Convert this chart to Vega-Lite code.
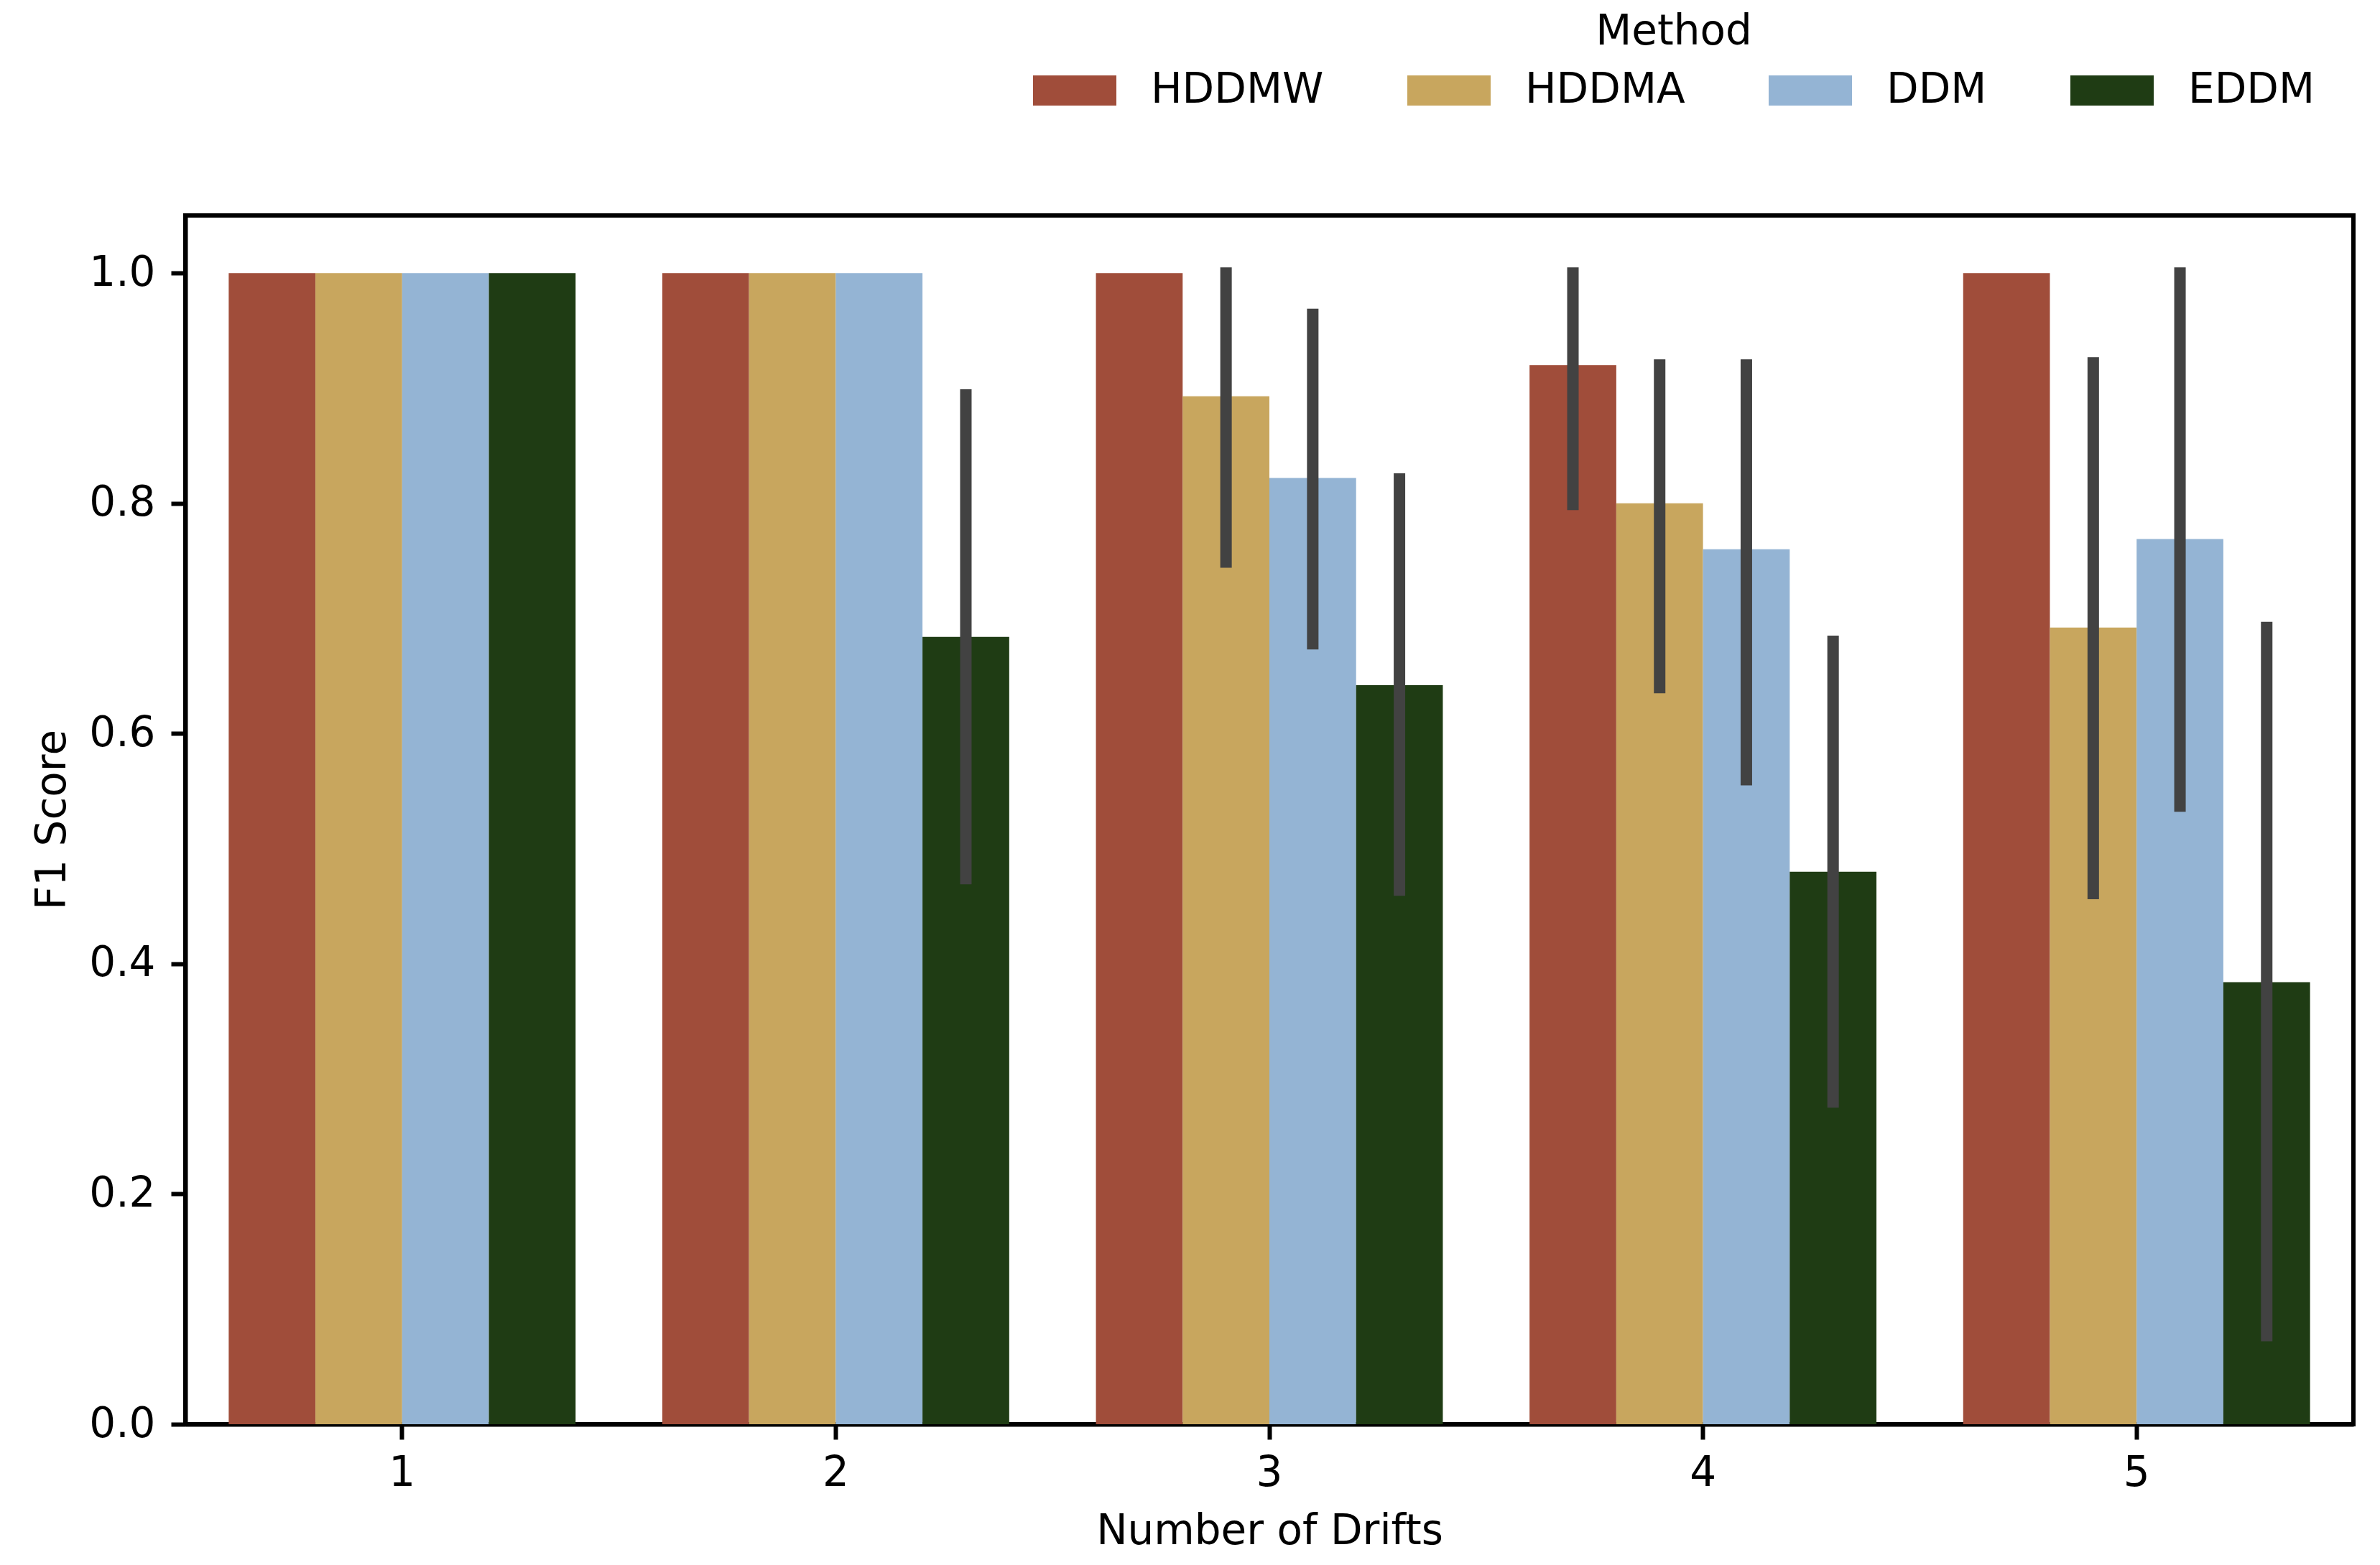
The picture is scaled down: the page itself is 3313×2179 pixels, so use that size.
{
  "$schema": "https://vega.github.io/schema/vega-lite/v6.json",
  "autosize": {"type": "none"},
  "width": 3018,
  "height": 1683,
  "padding": {"left": 258, "top": 300, "right": 37, "bottom": 196},
  "background": "white",
  "data": {
    "values": [
      {"drifts": "1", "method": "HDDMW", "f1": 1.0, "lo": null, "hi": null},
      {"drifts": "1", "method": "HDDMA", "f1": 1.0, "lo": null, "hi": null},
      {"drifts": "1", "method": "DDM", "f1": 1.0, "lo": null, "hi": null},
      {"drifts": "1", "method": "EDDM", "f1": 1.0, "lo": null, "hi": null},
      {"drifts": "2", "method": "HDDMW", "f1": 1.0, "lo": null, "hi": null},
      {"drifts": "2", "method": "HDDMA", "f1": 1.0, "lo": null, "hi": null},
      {"drifts": "2", "method": "DDM", "f1": 1.0, "lo": null, "hi": null},
      {"drifts": "2", "method": "EDDM", "f1": 0.684, "lo": 0.469, "hi": 0.899},
      {"drifts": "3", "method": "HDDMW", "f1": 1.0, "lo": null, "hi": null},
      {"drifts": "3", "method": "HDDMA", "f1": 0.893, "lo": 0.744, "hi": 1.005},
      {"drifts": "3", "method": "DDM", "f1": 0.822, "lo": 0.673, "hi": 0.969},
      {"drifts": "3", "method": "EDDM", "f1": 0.642, "lo": 0.459, "hi": 0.826},
      {"drifts": "4", "method": "HDDMW", "f1": 0.92, "lo": 0.794, "hi": 1.005},
      {"drifts": "4", "method": "HDDMA", "f1": 0.8, "lo": 0.635, "hi": 0.925},
      {"drifts": "4", "method": "DDM", "f1": 0.76, "lo": 0.555, "hi": 0.925},
      {"drifts": "4", "method": "EDDM", "f1": 0.48, "lo": 0.275, "hi": 0.685},
      {"drifts": "5", "method": "HDDMW", "f1": 1.0, "lo": null, "hi": null},
      {"drifts": "5", "method": "HDDMA", "f1": 0.692, "lo": 0.456, "hi": 0.927},
      {"drifts": "5", "method": "DDM", "f1": 0.769, "lo": 0.532, "hi": 1.005},
      {"drifts": "5", "method": "EDDM", "f1": 0.384, "lo": 0.072, "hi": 0.697}
    ]
  },
  "encoding": {
    "x": {
      "field": "drifts", "type": "nominal", "sort": ["1", "2", "3", "4", "5"],
      "scale": {"paddingInner": 0.2, "paddingOuter": 0.1},
      "axis": {
        "title": "Number of Drifts", "labelAngle": 0,
        "titleX": 1509, "titleY": 166, "titleBaseline": "alphabetic",
        "tickSize": 21, "labelPadding": 18
      }
    },
    "xOffset": {
      "field": "method", "type": "nominal", "sort": ["HDDMW", "HDDMA", "DDM", "EDDM"],
      "scale": {"paddingInner": 0, "paddingOuter": 0}
    }
  },
  "layer": [
    {
      "mark": {"type": "bar", "strokeWidth": 0},
      "encoding": {
        "y": {
          "field": "f1", "type": "quantitative",
          "scale": {"domain": [0, 1.05], "nice": false, "zero": true},
          "axis": {
            "title": "F1 Score", "values": [0, 0.2, 0.4, 0.6, 0.8, 1.0], "format": ".1f",
            "titleX": -168, "titleY": 841, "titleAngle": 270, "titleBaseline": "alphabetic",
            "tickSize": 20, "labelPadding": 22
          }
        },
        "color": {
          "field": "method", "type": "nominal",
          "sort": ["HDDMW", "HDDMA", "DDM", "EDDM"],
          "scale": {"domain": ["HDDMW", "HDDMA", "DDM", "EDDM"], "range": ["#A04D3A", "#C8A65E", "#94B4D4", "#1F3C14"]},
          "legend": {
            "title": "Method",
            "orient": "none", "legendX": 1180, "legendY": -284,
            "direction": "horizontal", "columns": 4,
            "symbolType": "M-1,-0.362L1,-0.362L1,0.362L-1,0.362Z",
            "symbolSize": 13456, "symbolStrokeWidth": 0, "symbolOpacity": 1,
            "labelOffset": 48, "columnPadding": 116,
            "labelLimit": 2000, "titleLimit": 3000,
            "titleAnchor": "middle", "titlePadding": -6, "padding": 0
          }
        }
      }
    },
    {
      "transform": [{"filter": "datum.lo != null"}],
      "mark": {"type": "rule", "color": "#424242", "strokeWidth": 16, "strokeCap": "butt"},
      "encoding": {
        "y": {"field": "lo", "type": "quantitative"},
        "y2": {"field": "hi"}
      }
    }
  ],
  "config": {
    "font": "DejaVu Sans",
    "view": {"stroke": "black", "strokeWidth": 6},
    "axis": {
      "grid": false, "domainColor": "black", "domainWidth": 6, "tickColor": "black", "tickWidth": 6,
      "labelFontSize": 58, "labelColor": "black", "labelFont": "DejaVu Sans",
      "titleFontSize": 58, "titleColor": "black", "titleFont": "DejaVu Sans", "titleFontWeight": "normal",
      "zindex": 1
    },
    "legend": {
      "labelFontSize": 58, "labelColor": "black", "labelFont": "DejaVu Sans",
      "titleFontSize": 58, "titleColor": "black", "titleFont": "DejaVu Sans", "titleFontWeight": "normal"
    }
  }
}
